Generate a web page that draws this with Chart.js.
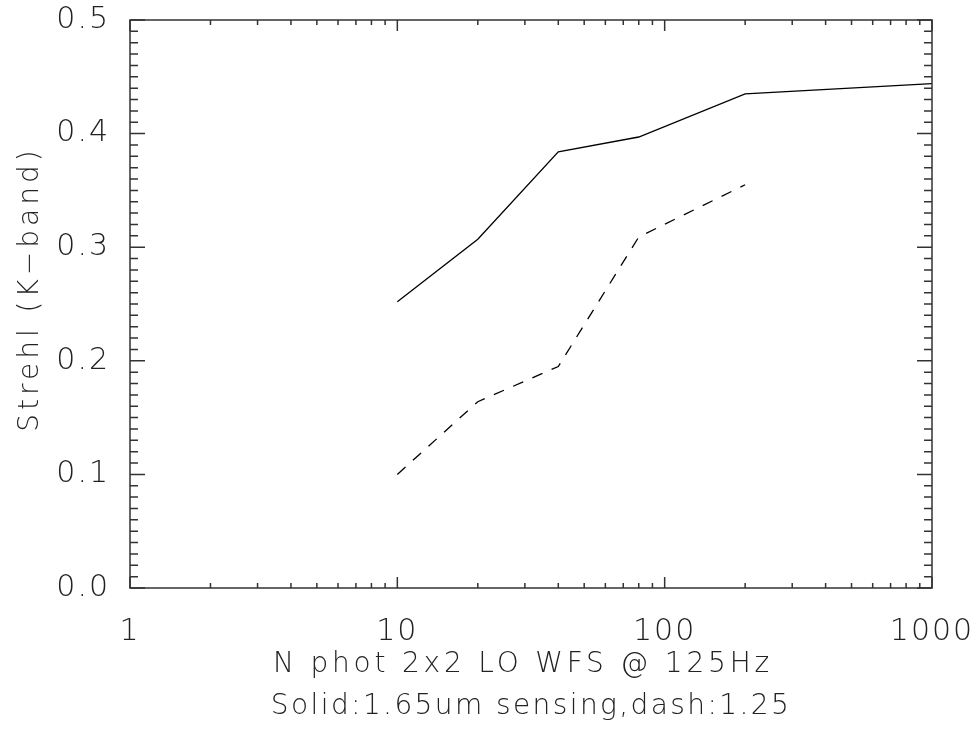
<!DOCTYPE html>
<html>
<head>
<meta charset="utf-8">
<script src="https://cdn.jsdelivr.net/npm/chart.js@4.4.1/dist/chart.umd.min.js"></script>
<style>
  html, body { margin: 0; padding: 0; background: #fff; }
  #wrap { width: 976px; height: 731px; }
</style>
</head>
<body>
<div id="wrap"><canvas id="strehl"></canvas></div>
<script>
// N photons on the 2x2 LO WFS
const nPhotSolid = [10, 20, 40, 80, 200, 1000];
const strehlSolid = [0.252, 0.307, 0.384, 0.397, 0.435, 0.444];   // 1.65um sensing
const nPhotDash = [10, 20, 40, 80, 200];
const strehlDash = [0.100, 0.164, 0.195, 0.309, 0.355];           // 1.25um sensing
const xTickVals = [1, 10, 100, 1000];
const yTickVals = [0, 0.1, 0.2, 0.3, 0.4, 0.5];

const FONT = '"DejaVu Sans ExtraLight", "DejaVu Sans Light", "DejaVu Sans", sans-serif';
const INK = '#222';

const toPts = (xs, ys) => xs.map((x, i) => ({ x: x, y: ys[i] }));

// wider spacing to look a bit like the hershey font
const spacing = {
  id: 'spacing',
  beforeDraw(chart) { chart.ctx.letterSpacing = '2px'; },
};

// frame + IDL style inward ticks on all four sides, plus axis titles
const idlAxes = {
  id: 'idlAxes',
  afterDraw(chart) {
    const { ctx, chartArea: a, scales } = chart;
    const xs = scales.x, ys = scales.y;
    ctx.save();
    ctx.strokeStyle = '#333';
    ctx.lineWidth = 1.5;
    ctx.strokeRect(a.left, a.top, a.right - a.left, a.bottom - a.top);
    ctx.beginPath();
    // x ticks, decades and 2..9
    for (let d = 1; d < 1000; d *= 10) {
      for (let k = 1; k <= 10; k++) {
        const px = xs.getPixelForValue(d * k);
        const len = (k === 1 || k === 10) ? 11 : 5;
        ctx.moveTo(px, a.bottom); ctx.lineTo(px, a.bottom - len);
        ctx.moveTo(px, a.top); ctx.lineTo(px, a.top + len);
      }
    }
    // y ticks every 0.01, major every 0.1
    for (let i = 0; i <= 50; i++) {
      const py = ys.getPixelForValue(i / 100);
      const len = (i % 10 === 0) ? 15 : 8;
      ctx.moveTo(a.left, py); ctx.lineTo(a.left + len, py);
      ctx.moveTo(a.right, py); ctx.lineTo(a.right - len, py);
    }
    ctx.stroke();

    ctx.fillStyle = INK;
    ctx.font = '28px ' + FONT;
    ctx.textAlign = 'center';
    ctx.textBaseline = 'middle';
    const cx = (a.left + a.right) / 2;
    ctx.letterSpacing = '3.8px';
    ctx.fillText('N phot 2x2 LO WFS @ 125Hz', cx - 8, 665);
    ctx.letterSpacing = '2.4px';
    ctx.fillText('Solid:1.65um sensing,dash:1.25', cx, 707);
    ctx.letterSpacing = '4px';
    ctx.translate(31, 289);
    ctx.rotate(-Math.PI / 2);
    ctx.fillText('Strehl (K\u2212band)', 0, 0);
    ctx.restore();
  }
};

new Chart(document.getElementById('strehl'), {
  type: 'line',
  data: {
    datasets: [{
      label: 'Solid: 1.65um',
      data: toPts(nPhotSolid, strehlSolid),
      borderColor: '#000',
      borderWidth: 1.3,
      pointRadius: 0,
      tension: 0,
    }, {
      label: 'Dash: 1.25um',
      data: toPts(nPhotDash, strehlDash),
      borderColor: '#000',
      borderWidth: 1.3,
      borderDash: [11, 10],
      pointRadius: 0,
      tension: 0,
    }]
  },
  options: {
    responsive: true,
    maintainAspectRatio: false,
    animation: false,
    layout: { padding: { top: 20, right: 44, left: 0, bottom: 0 } },
    plugins: {
      legend: { display: false },
      title: { display: false },
      tooltip: { enabled: false },
    },
    scales: {
      x: {
        type: 'logarithmic',
        min: 1,
        max: 1000,
        grid: { display: false },
        border: { display: false },
        afterBuildTicks: (s) => { s.ticks = xTickVals.map(v => ({ value: v })); },
        afterFit: (s) => { s.height = 143; s.paddingLeft = 0; s.paddingRight = 0; },
        ticks: {
          color: INK,
          font: { family: FONT, size: 30 },
          padding: 18,
          maxRotation: 0,
          autoSkip: false,
          callback: (v) => String(v),
        },
      },
      y: {
        type: 'linear',
        min: 0,
        max: 0.5,
        grid: { display: false },
        border: { display: false },
        afterBuildTicks: (s) => { s.ticks = yTickVals.map(v => ({ value: v })); },
        afterFit: (s) => { s.width = 130; s.paddingTop = 0; s.paddingBottom = 0; },
        ticks: {
          color: INK,
          font: { family: FONT, size: 30 },
          padding: 12,
          callback: (v) => v.toFixed(1),
        },
      },
    },
  },
  plugins: [spacing, idlAxes],
});
</script>
</body>
</html>
